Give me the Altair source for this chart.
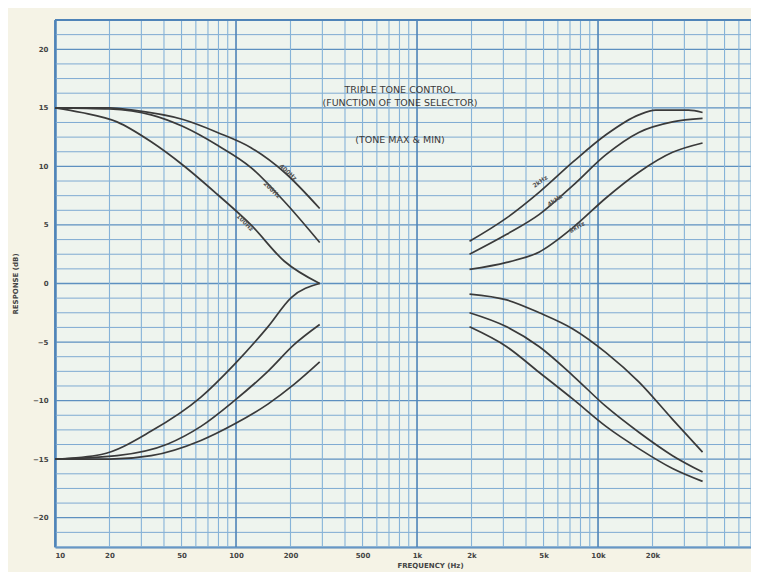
import altair as alt
import pandas as pd

# ---------------- data ----------------
bass_freq_a = [10, 20, 27, 51, 79, 121, 185, 290]
bass_db_a = [15, 15, 14.8, 14.0, 12.9, 11.6, 9.5, 6.4]
bass_freq_b = [10, 20, 34, 51, 79, 121, 185, 290]
bass_db_b = [15, 14.9, 14.4, 13.4, 11.8, 9.9, 7.0, 3.5]
bass_freq_c = [10, 14, 22, 34, 51, 79, 121, 185, 290]
bass_db_c = [15, 14.6, 13.8, 12.1, 10.1, 7.6, 5.0, 1.9, 0.0]

cut_freq_c = [10, 18, 34, 64, 98, 150, 202, 290]
cut_db_c = [-15, -14.6, -12.6, -9.7, -6.9, -3.7, -1.2, 0.0]
cut_freq_d = [10, 22, 42, 64, 98, 150, 210, 290]
cut_db_d = [-15, -14.7, -13.7, -12.2, -10.0, -7.5, -5.2, -3.5]
cut_freq_e = [10, 20, 34, 64, 98, 150, 210, 290]
cut_db_e = [-15, -15, -14.7, -13.4, -12.0, -10.3, -8.6, -6.7]

treble_freq_1 = [1950, 3130, 4740, 7300, 11060, 16800, 20800, 31600, 37800]
treble_db_1 = [3.6, 5.6, 7.8, 10.4, 12.7, 14.4, 14.8, 14.8, 14.6]
treble_freq = [1950, 3130, 4740, 7300, 11060, 16800, 25800, 37800]
treble_db_2 = [2.5, 4.2, 5.9, 8.4, 11.0, 12.9, 13.8, 14.1]
treble_db_3 = [1.2, 1.8, 2.7, 4.8, 7.3, 9.5, 11.2, 12.0]
treble_cut_db_1 = [-0.9, -1.4, -2.5, -3.9, -5.9, -8.4, -11.6, -14.4]
treble_cut_db_2 = [-2.5, -3.7, -5.4, -7.9, -10.5, -12.7, -14.7, -16.1]
treble_cut_db_3 = [-3.7, -5.4, -7.6, -9.9, -12.2, -14.1, -15.8, -16.9]

curve_labels = ["400Hz", "200Hz", "100Hz", "2kHz", "4kHz", "8kHz"]
label_freq = [194, 158, 112, 4786, 5780, 7650]
label_db = [9.5, 8.0, 5.2, 8.7, 7.1, 4.8]
label_angle = [42, 44, 45, 325, 326, 330]

y_tick_values = [-20, -15, -10, -5, 0, 5, 10, 15, 20]
x_tick_values = [10, 20, 50, 100, 200, 500, 1000, 2000, 5000, 10000, 20000]
decades = [10, 100, 1000, 10000]
multipliers = [1, 2, 3, 4, 5, 6, 7, 8, 9]
y_grid_steps = list(range(-18, 19))

title_lines = ["TRIPLE TONE CONTROL", "(FUNCTION OF TONE SELECTOR)", "(TONE MAX & MIN)"]

# ---------------- tables ----------------
rows = []
def add(name, fs, ds):
    for f, d in zip(fs, ds):
        rows.append({"curve": name, "f": f, "db": d})

add("a", bass_freq_a, bass_db_a)
add("b", bass_freq_b, bass_db_b)
add("c", bass_freq_c, bass_db_c)
add("cc", cut_freq_c, cut_db_c)
add("cd", cut_freq_d, cut_db_d)
add("ce", cut_freq_e, cut_db_e)
add("t1", treble_freq_1, treble_db_1)
add("t2", treble_freq, treble_db_2)
add("t3", treble_freq, treble_db_3)
add("u1", treble_freq, treble_cut_db_1)
add("u2", treble_freq, treble_cut_db_2)
add("u3", treble_freq, treble_cut_db_3)
curves = pd.DataFrame(rows)

vgrid = pd.DataFrame(
    [{"f": d * m, "major": m == 1} for d in decades for m in multipliers if d * m <= 70000]
)
hgrid = pd.DataFrame([{"db": s * 1.25, "major": s % 4 == 0} for s in y_grid_steps])

labels = pd.DataFrame({"text": curve_labels, "f": label_freq, "db": label_db, "angle": label_angle})

W, H = 696, 527
xscale = alt.Scale(type="log", domain=[10, 70000], nice=False)
yscale = alt.Scale(domain=[-22.5, 22.5], nice=False)

X = alt.X("f:Q", scale=xscale, title="FREQUENCY (Hz)",
          axis=alt.Axis(values=x_tick_values, grid=False, ticks=False, domain=True,
                        domainColor="#4f84b8", domainWidth=2,
                        labelExpr="datum.value >= 1000 ? (datum.value / 1000) + 'k' : datum.value",
                        labelFontSize=7, labelColor="#444", labelPadding=4,
                        labelFont="DejaVu Sans", labelFontWeight="bold",
                        titleFontSize=7, titleColor="#444", titleFont="DejaVu Sans",
                        titleFontWeight="bold", titleX=375, titlePadding=3))
Y = alt.Y("db:Q", scale=yscale, title="RESPONSE (dB)",
          axis=alt.Axis(values=y_tick_values, grid=False, ticks=False, domain=True,
                        domainColor="#4f84b8", domainWidth=2.5,
                        labelFontSize=7, labelColor="#444", labelPadding=7,
                        labelFont="DejaVu Sans", labelFontWeight="bold",
                        titleFontSize=7, titleColor="#444", titleFont="DejaVu Sans",
                        titleFontWeight="bold", titlePadding=14))

vrules = alt.Chart(vgrid).mark_rule().encode(
    x=X,
    color=alt.condition("datum.major", alt.value("#4f84b8"), alt.value("#86b3d8")),
    strokeWidth=alt.condition("datum.major", alt.value(1.6), alt.value(1.1)),
)
hrules = alt.Chart(hgrid).mark_rule().encode(
    y=Y,
    color=alt.condition("datum.major", alt.value("#5d90c0"), alt.value("#7eaad2")),
    strokeWidth=alt.condition("datum.major", alt.value(1.3), alt.value(1.0)),
)
top_border = alt.Chart(pd.DataFrame({"v": [0]})).mark_rule(color="#4f84b8", strokeWidth=2).encode(
    x=alt.value(0), x2=alt.value(W), y=alt.value(0)
)

lines = alt.Chart(curves).mark_line(color="#3a3a3a", strokeWidth=1.7, interpolate="monotone").encode(
    x=X, y=Y, detail="curve:N"
)

curve_text = alt.Chart(labels).mark_text(
    fontSize=6, color="#555", font="DejaVu Sans", fontWeight="bold"
).encode(
    x=X, y=Y,
    text="text:N", angle=alt.Angle("angle:Q", scale=None)
)

title_y = [70, 83, 120]
title_layers = []
for line, ty in zip(title_lines, title_y):
    title_layers.append(
        alt.Chart(pd.DataFrame({"text": [line]})).mark_text(
            fontSize=9.5, color="#3a3a3a", font="DejaVu Sans", align="center", baseline="middle"
        ).encode(text="text:N", x=alt.value(345), y=alt.value(ty))
    )

chart = alt.layer(hrules, vrules, top_border, lines, curve_text, *title_layers).properties(
    width=W, height=H,
    autosize=alt.AutoSizeParams(type="none"),
    padding={"left": 47, "top": 12, "right": 0, "bottom": 25},
    background="#f5f3e6",
).configure_view(fill="#eef4ee", stroke=None)

chart.save("out.html", embed_options={"renderer": "svg", "actions": False})
